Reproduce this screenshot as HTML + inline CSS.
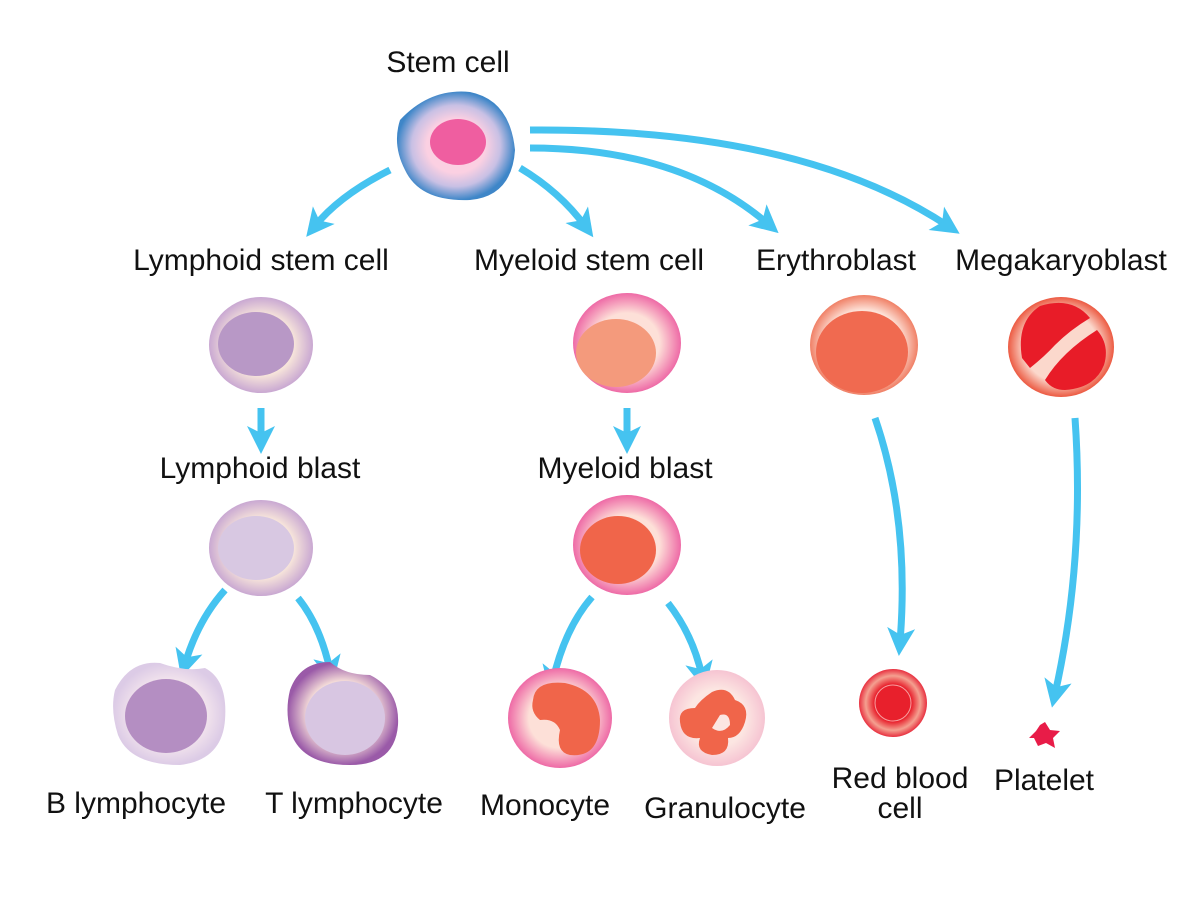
<!DOCTYPE html>
<html><head><meta charset="utf-8"><style>
html,body{margin:0;padding:0;background:#fff}
svg{display:block}
text{font-family:"Liberation Sans",sans-serif;font-size:30px;fill:#111;text-anchor:middle}
</style></head><body>
<svg width="1200" height="907" viewBox="0 0 1200 907" xmlns="http://www.w3.org/2000/svg">
<defs>
<radialGradient id="gStem"><stop offset="0.5" stop-color="#fbd0e2"/><stop offset="0.75" stop-color="#c8c0e4"/><stop offset="1" stop-color="#3e86c8"/></radialGradient>
<radialGradient id="gLym"><stop offset="0.6" stop-color="#fbeadb"/><stop offset="1" stop-color="#c9a8d2"/></radialGradient>
<radialGradient id="gLymB"><stop offset="0.6" stop-color="#f6e8ee"/><stop offset="1" stop-color="#dccbe6"/></radialGradient>
<radialGradient id="gLymT"><stop offset="0.6" stop-color="#fbe6dc"/><stop offset="1" stop-color="#9a5aa8"/></radialGradient>
<radialGradient id="gMye"><stop offset="0.6" stop-color="#fde0d8"/><stop offset="1" stop-color="#ee6aa6"/></radialGradient>
<radialGradient id="gGran"><stop offset="0.6" stop-color="#fce6e2"/><stop offset="1" stop-color="#f6c4d2"/></radialGradient>
<radialGradient id="gEry"><stop offset="0.7" stop-color="#fde2d8"/><stop offset="1" stop-color="#f08066"/></radialGradient>
<radialGradient id="gMeg"><stop offset="0.7" stop-color="#fbd8cc"/><stop offset="1" stop-color="#ec5a42"/></radialGradient>
<radialGradient id="gRbc"><stop offset="0.55" stop-color="#e8202c"/><stop offset="0.8" stop-color="#f4a090"/><stop offset="1" stop-color="#e83040"/></radialGradient>
<marker id="ah" markerWidth="4" markerHeight="4" refX="2" refY="2" orient="auto" markerUnits="strokeWidth"><path d="M0,0 L4,2 L0,4 L1,2 Z" fill="#45c3f0"/></marker>
</defs>

<g fill="none" stroke="#45c3f0" stroke-width="7" marker-end="url(#ah)">
<path d="M390,170 Q340,195 315,226"/>
<path d="M520,168 Q560,192 585,226"/>
<path d="M530,148 Q680,148 768,224"/>
<path d="M530,130 Q800,128 948,226"/>
<path d="M261,408 L261,440"/>
<path d="M627,408 L627,440"/>
<path d="M225,590 Q198,620 185,664"/>
<path d="M298,598 Q320,625 330,670"/>
<path d="M592,597 Q565,628 553,680"/>
<path d="M668,603 Q693,635 702,676"/>
<path d="M875,418 Q910,520 900,642"/>
<path d="M1075,418 Q1085,560 1055,694"/>
</g>

<!-- stem -->
<path d="M400,120 Q430,88 470,92 Q510,100 515,150 Q512,196 470,200 Q420,202 405,170 Q392,145 400,120Z" fill="url(#gStem)"/>
<ellipse cx="458" cy="142" rx="28" ry="23" fill="#ef5ea0"/>

<ellipse cx="261" cy="345" rx="52" ry="48" fill="url(#gLym)"/>
<ellipse cx="256" cy="344" rx="38" ry="32" fill="#b898c6"/>
<ellipse cx="627" cy="343" rx="54" ry="50" fill="url(#gMye)"/>
<ellipse cx="616" cy="353" rx="40" ry="34" fill="#f49a7c"/>
<ellipse cx="864" cy="345" rx="54" ry="50" fill="url(#gEry)"/>
<ellipse cx="862" cy="352" rx="46" ry="41" fill="#f06a50"/>
<ellipse cx="1061" cy="347" rx="53" ry="50" fill="url(#gMeg)"/>
<path d="M1022,358 Q1016,322 1040,306 Q1072,296 1090,318 Q1070,330 1055,345 Q1045,356 1030,368Z" fill="#e81c28"/>
<path d="M1045,380 Q1062,352 1097,330 Q1110,345 1104,365 Q1095,388 1065,390 Q1052,390 1045,380Z" fill="#e81c28"/>

<ellipse cx="261" cy="548" rx="52" ry="48" fill="url(#gLym)"/>
<ellipse cx="256" cy="548" rx="38" ry="32" fill="#d8c8e2"/>
<ellipse cx="627" cy="545" rx="54" ry="50" fill="url(#gMye)"/>
<ellipse cx="618" cy="550" rx="38" ry="34" fill="#f0654a"/>

<path d="M115,690 Q130,660 160,663 Q185,672 205,668 Q228,680 225,720 Q222,760 180,765 Q130,765 118,735 Q110,710 115,690Z" fill="url(#gLymB)"/>
<ellipse cx="166" cy="716" rx="41" ry="37" fill="#b48ec2"/>
<path d="M290,690 Q300,662 330,662 Q345,675 370,675 Q400,690 398,725 Q395,765 350,765 Q300,765 290,730 Q285,710 290,690Z" fill="url(#gLymT)"/>
<ellipse cx="345" cy="718" rx="40" ry="37" fill="#d8c6e2"/>
<ellipse cx="560" cy="718" rx="52" ry="50" fill="url(#gMye)"/>
<path d="M533,700 Q535,680 565,683 Q598,690 600,720 Q600,758 570,755 Q555,752 560,730 Q555,718 540,720 Q530,712 533,700Z" fill="#f0654a"/>
<ellipse cx="717" cy="718" rx="48" ry="48" fill="url(#gGran)"/>
<path d="M712,692 Q728,685 735,700 Q750,705 745,722 Q740,738 728,738 Q730,755 712,755 Q695,752 700,738 Q682,740 680,722 Q678,708 695,708 Q700,700 712,692Z" fill="#f0654a"/>
<path d="M720,715 Q730,712 730,725 Q722,735 712,728Z" fill="#fce6e2"/>
<circle cx="893" cy="703" r="34" fill="url(#gRbc)"/>
<circle cx="893" cy="703" r="18" fill="none" stroke="#f7a0a0" stroke-width="1"/>
<path d="M1045,722 L1050,730 L1060,731 L1053,738 L1055,748 L1046,743 L1038,746 L1034,738 L1029,738 L1036,731 L1040,725Z" fill="#e81c48"/>

<text x="448" y="72">Stem cell</text>
<text x="261" y="270">Lymphoid stem cell</text>
<text x="589" y="270">Myeloid stem cell</text>
<text x="836" y="270">Erythroblast</text>
<text x="1061" y="270">Megakaryoblast</text>
<text x="260" y="478">Lymphoid blast</text>
<text x="625" y="478">Myeloid blast</text>
<text x="136" y="813">B lymphocyte</text>
<text x="354" y="813">T lymphocyte</text>
<text x="545" y="815">Monocyte</text>
<text x="725" y="818">Granulocyte</text>
<text x="900" y="788">Red blood</text>
<text x="900" y="818">cell</text>
<text x="1044" y="790">Platelet</text>
</svg>
</body></html>
